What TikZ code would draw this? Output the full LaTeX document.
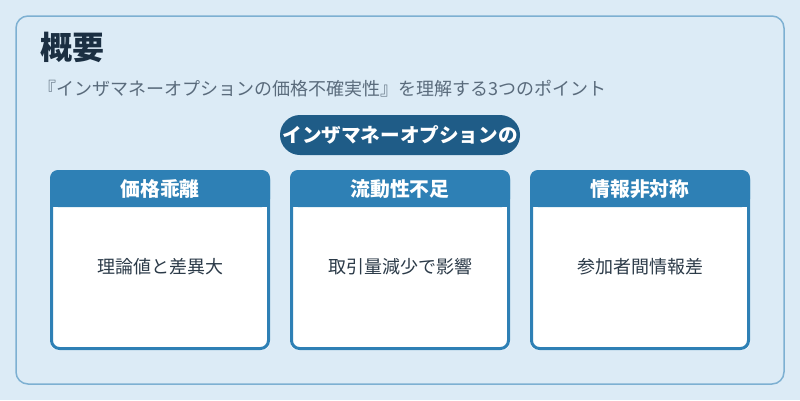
\documentclass[tikz,border=0pt]{standalone}
\usepackage{fontspec}
\setmainfont{Noto Sans CJK JP}
\usetikzlibrary{positioning}
\definecolor{bgblue}{HTML}{DCEBF6}
\definecolor{frameblue}{HTML}{7DB0D2}
\definecolor{pillblue}{HTML}{1F5C87}
\definecolor{cardblue}{HTML}{2E80B5}
\definecolor{titleink}{HTML}{1B2F42}
\definecolor{subink}{HTML}{5A6B7C}
\definecolor{bodyink}{HTML}{2B3A48}
\tikzset{
 card/.style={fill=white,rounded corners=8pt},
 cardline/.style={draw=cardblue,line width=3pt,rounded corners=8pt},
 head/.style={text=white,font=\bfseries\fontsize{19.8}{22}\selectfont},
 body/.style={text=bodyink,font=\fontsize{18}{21}\selectfont}
}
\begin{document}
\begin{tikzpicture}[x=1pt,y=-1pt]
\fill[bgblue] (0,0) rectangle (800,400);
\draw[frameblue,line width=1.5pt,rounded corners=12pt] (16,16) rectangle (784,384);
\node[anchor=west,inner sep=0pt,text=titleink,font=\bfseries\fontsize{32}{35}\selectfont] (title) at (40,47) {概要};
\node[anchor=west,inner sep=0pt,text=subink,font=\fontsize{18}{21}\selectfont] (sub) at (38,89) {『インザマネーオプションの価格不確実性』を理解する3つのポイント};
\node[fill=pillblue,rounded corners=20pt,minimum width=240pt,minimum height=40pt,inner sep=0pt,text=white,font=\bfseries\fontsize{19.6}{22}\selectfont] (pill) at (400,135) {インザマネーオプションの};
% three cards
\foreach \x/\h/\b/\n in {50/価格乖離/理論値と差異大/a,290/流動性不足/取引量減少で影響/b,530/情報非対称/参加者間情報差/c}{
 \path[card] (\x,170) rectangle (\x+220,350);
 \fill[cardblue,rounded corners=8pt] (\x,170) rectangle (\x+220,207);
 \fill[cardblue] (\x,195) rectangle (\x+220,207);
 \draw[cardline] (\x+1.5,171.5) rectangle (\x+218.5,348.5);
 \node[head] (h\n) at (\x+110,189) {\h};
 \node[body] (b\n) at (\x+110,267) {\b};
}
\end{tikzpicture}
\end{document}
